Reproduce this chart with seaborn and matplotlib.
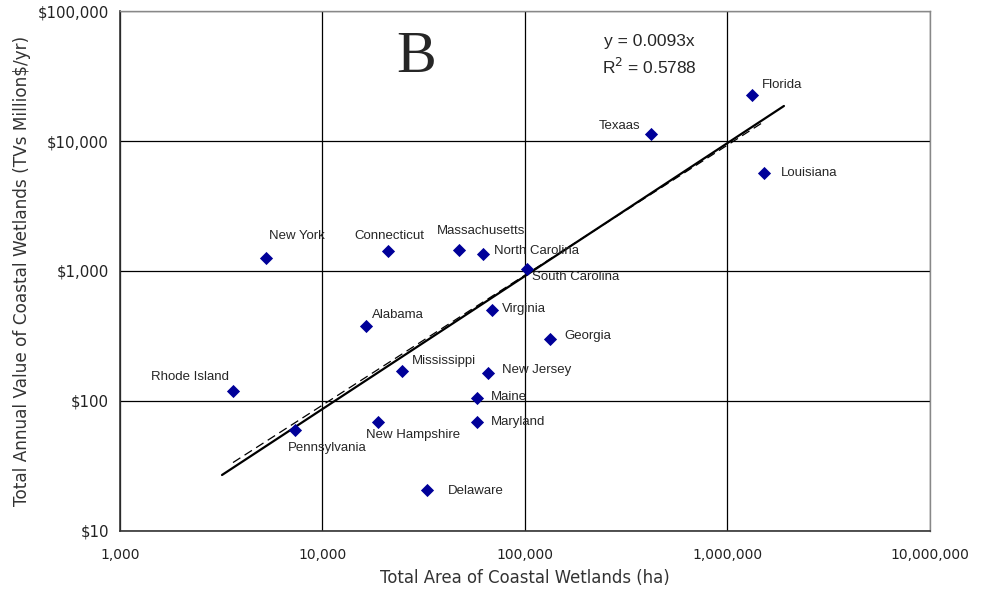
import numpy as np
import pandas as pd
import matplotlib
matplotlib.use("Agg")
import matplotlib.pyplot as plt
import seaborn as sns

states = ["Florida", "Texaas", "Louisiana", "New York", "Connecticut", "Massachusetts",
          "North Carolina", "South Carolina", "Virginia", "Alabama", "Georgia",
          "Mississippi", "New Jersey", "Rhode Island", "Maine", "New Hampshire",
          "Maryland", "Pennsylvania", "Delaware"]
area_ha = [1321000, 419000, 1514000, 5260, 21050, 47200, 62000, 102000, 68700, 16400,
           132900, 24700, 65700, 3614, 57900, 18800, 57900, 7310, 32800]
value_musd = [22600, 11320, 5675, 1259, 1425, 1451, 1351, 1036, 501, 378, 300, 170,
              164, 119, 105, 68.9, 68.9, 59.8, 20.7]

x_ticks = [1000, 10000, 100000, 1000000, 10000000]
x_tick_labels = ["1,000", "10,000", "100,000", "1,000,000", "10,000,000"]
y_ticks = [10, 100, 1000, 10000, 100000]
y_tick_labels = ["$10", "$100", "$1,000", "$10,000", "$100,000"]

# linear trend through origin (dashed) and power trend (solid)
lin_slope = 0.0093
r2 = 0.5788
pow_coef = 0.00702
pow_exp = 1.023
lin_range = [3614, 1496000]
pow_range = [3190, 1900000]

df = pd.DataFrame({"state": states, "area": area_ha, "value": value_musd})

# label offsets in points (dx, dy, ha)
offsets = {
    "Florida": (7, 7, "left"), "Texaas": (-8, 6, "right"), "Louisiana": (12, 0, "left"),
    "New York": (2, 16, "left"), "Connecticut": (1, 11, "center"),
    "Massachusetts": (16, 14, "center"), "North Carolina": (8, 2, "left"),
    "South Carolina": (4, -6, "left"), "Virginia": (7, 1, "left"),
    "Alabama": (4, 8, "left"), "Georgia": (10, 2, "left"), "Mississippi": (7, 7, "left"),
    "New Jersey": (10, 2, "left"), "Rhode Island": (-3, 10, "right"),
    "Maine": (10, 1, "left"), "New Hampshire": (-9, -9, "left"),
    "Maryland": (10, 0, "left"), "Pennsylvania": (-5, -13, "left"),
    "Delaware": (15, -1, "left"),
}

sns.set_style("white")
plt.rcParams["font.family"] = ["DejaVu Sans"]

fig = plt.figure(figsize=(9.86, 5.89), dpi=100)
ax = fig.add_axes([0.1217, 0.0985, 0.8215, 0.8828])

sns.scatterplot(data=df, x="area", y="value", marker="D", s=45, color="#000099",
                edgecolor="#000099", linewidth=0, ax=ax, zorder=5)

ax.set_xscale("log")
ax.set_yscale("log")
ax.set_xlim(1000, 10000000)
ax.set_ylim(10, 100000)

xl = np.array(lin_range, dtype=float)
ax.plot(xl, lin_slope * xl, color="black", lw=0.9, ls=(0, (7, 4)), zorder=3)
xp = np.array(pow_range, dtype=float)
ax.plot(xp, pow_coef * xp ** pow_exp, color="black", lw=1.6, zorder=4)

for s, xa, yv in zip(states, area_ha, value_musd):
    dx, dy, ha = offsets[s]
    ax.annotate(s, (xa, yv), xytext=(dx, dy), textcoords="offset points",
                ha=ha, va="center", fontsize=9.5, family="Liberation Sans", zorder=6)

ax.set_xticks(x_ticks)
ax.set_xticklabels(x_tick_labels)
ax.set_yticks(y_ticks)
ax.set_yticklabels(y_tick_labels)
ax.minorticks_off()
ax.tick_params(axis="both", which="major", direction="inout", length=8, width=1,
               color="#333333", labelcolor="#222222")
ax.tick_params(axis="x", pad=8, labelsize=10)
ax.tick_params(axis="y", pad=4, labelsize=10.8)
ax.grid(True, which="major", color="black", lw=0.9)
for side in ["left", "bottom"]:
    ax.spines[side].set_color("#333333")
    ax.spines[side].set_linewidth(1.2)
for side in ["top", "right"]:
    ax.spines[side].set_color("#888888")
    ax.spines[side].set_linewidth(1.0)

ax.set_xlabel("Total Area of Coastal Wetlands (ha)", fontsize=11.9, color="#333333", labelpad=5)
ax.set_ylabel("Total Annual Value of Coastal Wetlands (TVs Million$/yr)", fontsize=12.2,
              color="#333333", labelpad=5)

ax.text(0.366, 0.909, "B", transform=ax.transAxes, fontsize=43, family="Liberation Serif",
        ha="center", va="center")
ax.text(0.653, 0.942, "y = 0.0093x", transform=ax.transAxes, fontsize=12.5,
        family="Liberation Sans", ha="center", va="center")
ax.text(0.653, 0.892, "R$^2$ = 0.5788", transform=ax.transAxes, fontsize=12.5,
        family="Liberation Sans", ha="center", va="center")

fig.savefig("out.png", dpi=100)
